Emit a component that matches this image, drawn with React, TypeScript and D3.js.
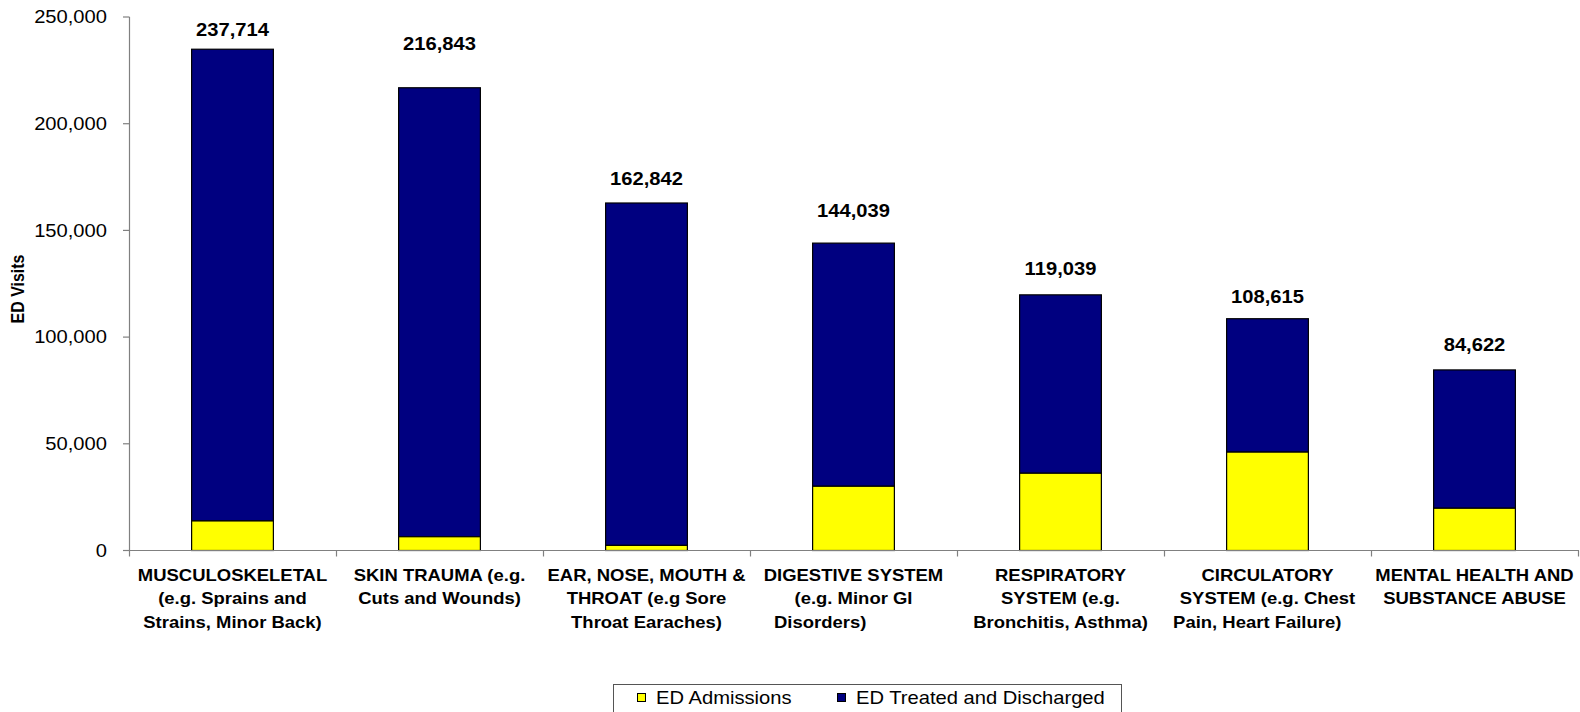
import React from "react";
import * as d3 from "d3";

const categories: string[][] = [
  ["MUSCULOSKELETAL", "(e.g. Sprains and", "Strains, Minor Back)"],
  ["SKIN TRAUMA (e.g.", "Cuts and Wounds)"],
  ["EAR, NOSE, MOUTH &", "THROAT (e.g Sore", "Throat Earaches)"],
  ["DIGESTIVE SYSTEM", "(e.g. Minor GI", "Disorders)\u00a0\u00a0\u00a0\u00a0\u00a0\u00a0\u00a0\u00a0\u00a0\u00a0\u00a0\u00a0\u00a0"],
  ["RESPIRATORY", "SYSTEM (e.g.", "Bronchitis, Asthma)"],
  ["CIRCULATORY", "SYSTEM (e.g. Chest", "Pain, Heart Failure)\u00a0\u00a0\u00a0\u00a0"],
  ["MENTAL HEALTH AND", "SUBSTANCE ABUSE"],
];

// bar totals as drawn, and the admissions part
const totals: number[] = [234900, 216843, 162842, 144039, 119800, 108615, 84622];
const admissions: number[] = [13850, 6450, 2400, 30100, 36200, 46100, 19800];
// printed labels and where they sit (data units)
const totalLabels: string[] = ["237,714", "216,843", "162,842", "144,039", "119,039", "108,615", "84,622"];
const labelAnchors: number[] = [244200, 237400, 174500, 159200, 132100, 118900, 96700];

const yTicks: number[] = [0, 50000, 100000, 150000, 200000, 250000];
const seriesNames: string[] = ["ED Admissions", "ED Treated and Discharged"];
const seriesColors: string[] = ["#FFFF00", "#000080"];

const W = 1580;
const H = 712;
const SX = 1.12;
const FONT = "Arial, 'Liberation Sans', sans-serif";

const T = ({ x, y, children, anchor = "middle", size = 18, bold = false, rotate = 0 }: any) => (
  <text
    transform={`translate(${x},${y}) scale(${SX},1)${rotate ? ` rotate(${rotate})` : ""}`}
    textAnchor={anchor}
    fontSize={size}
    fontWeight={bold ? "bold" : "normal"}
    fontFamily={FONT}
    fill="#000"
    style={{ whiteSpace: "pre" }}
  >
    {children}
  </text>
);

export default function App() {
  const x = d3.scaleBand<number>().domain(d3.range(categories.length)).range([129, 1578]).padding(0);
  const y = d3.scaleLinear().domain([0, 250000]).range([550.5, 17]);
  const bw = x.bandwidth() * 0.395;
  const fmt = d3.format(",");
  const axisColor = "#808080";

  return (
    <div style={{ position: "absolute", left: 0, top: 0 }}>
      <svg width={W} height={H} style={{ display: "block", background: "#fff" }}>
        {/* bars */}
        {totals.map((t, i) => {
          const cx = (x(i) as number) + x.bandwidth() / 2;
          const x0 = cx - bw / 2;
          const a = admissions[i];
          return (
            <g key={i}>
              <rect x={x0} y={y(t)} width={bw} height={y(a) - y(t)} fill={seriesColors[1]} stroke="#000" strokeWidth={1.2} />
              <rect x={x0} y={y(a)} width={bw} height={y(0) - y(a)} fill={seriesColors[0]} stroke="#000" strokeWidth={1.2} />
              <T x={cx} y={y(labelAnchors[i]) + 6.5} size={18} bold>
                {totalLabels[i]}
              </T>
            </g>
          );
        })}

        {/* y axis */}
        <line x1={129.5} x2={129.5} y1={y(250000)} y2={y(0)} stroke={axisColor} strokeWidth={1.2} />
        {yTicks.map((v) => (
          <g key={v}>
            <line x1={123} x2={129.5} y1={y(v)} y2={y(v)} stroke={axisColor} strokeWidth={1.2} />
            <T x={107} y={y(v) + 6.3} anchor="end" size={18}>
              {fmt(v)}
            </T>
          </g>
        ))}
        <T x={24} y={289} size={16} bold rotate={-90}>
          ED Visits
        </T>

        {/* x axis */}
        <line x1={129} x2={1579} y1={y(0)} y2={y(0)} stroke={axisColor} strokeWidth={1.2} />
        {d3.range(categories.length + 1).map((i) => {
          const xx = i < categories.length ? (x(i) as number) : 1578;
          return <line key={i} x1={xx + 0.5} x2={xx + 0.5} y1={y(0)} y2={y(0) + 6} stroke={axisColor} strokeWidth={1.2} />;
        })}
        {categories.map((lines, i) => {
          const cx = (x(i) as number) + x.bandwidth() / 2;
          return (
            <g key={i}>
              {lines.map((ln, j) => (
                <T key={j} x={cx} y={581 + j * 23.4} size={16.5} bold>
                  {ln}
                </T>
              ))}
            </g>
          );
        })}

        {/* legend */}
        <rect x={613.5} y={684.5} width={508} height={40} fill="#fff" stroke="#555" strokeWidth={1} />
        <rect x={637.5} y={693.5} width={8} height={8} fill={seriesColors[0]} stroke="#000" strokeWidth={1} />
        <T x={656} y={704} anchor="start" size={18}>
          {seriesNames[0]}
        </T>
        <rect x={837.5} y={693.5} width={8} height={8} fill={seriesColors[1]} stroke="#000" strokeWidth={1} />
        <T x={856} y={704} anchor="start" size={18}>
          {seriesNames[1]}
        </T>
      </svg>
    </div>
  );
}
